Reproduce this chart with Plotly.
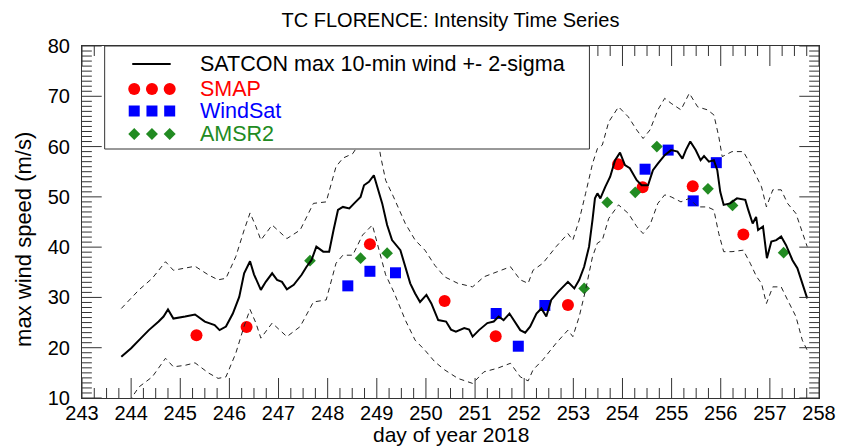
import numpy as np
import plotly.graph_objects as go

# ---------------- data ----------------
satcon_day = [243.80, 244.00, 244.20, 244.36, 244.56, 244.66, 244.75, 244.86, 245.10, 245.30,
              245.50, 245.70, 245.80, 245.93, 246.07, 246.20, 246.30, 246.42, 246.50, 246.64,
              246.74, 246.87, 246.97, 247.07, 247.17, 247.31, 247.47, 247.57, 247.67, 247.77,
              247.91, 248.03, 248.12, 248.21, 248.31, 248.44, 248.57, 248.67, 248.74, 248.84,
              248.94, 249.01, 249.11, 249.21, 249.31, 249.48, 249.58, 249.68, 249.78, 249.88,
              250.01, 250.11, 250.25, 250.41, 250.51, 250.61, 250.78, 250.88, 250.95, 251.08,
              251.25, 251.38, 251.48, 251.58, 251.70, 251.82, 251.92, 252.02, 252.12, 252.25,
              252.35, 252.45, 252.55, 252.69, 252.89, 253.02, 253.12, 253.22, 253.32, 253.39,
              253.44, 253.49, 253.55, 253.65, 253.75, 253.85, 253.95, 254.05, 254.15, 254.29,
              254.39, 254.52, 254.62, 254.72, 254.86, 254.99, 255.12, 255.22, 255.29, 255.38,
              255.49, 255.59, 255.66, 255.76, 255.86, 255.93, 255.99, 256.06, 256.19, 256.33,
              256.50, 256.56, 256.65, 256.72, 256.76, 256.86, 256.94, 257.03, 257.13, 257.23,
              257.33, 257.46, 257.56, 257.76]
satcon_wind = [18.2, 19.9, 21.9, 23.5, 25.2, 26.2, 27.6, 25.8, 26.2, 26.6,
               25.2, 24.5, 23.5, 24.2, 26.8, 30.1, 34.8, 37.2, 34.6, 31.5,
               33.1, 34.8, 33.5, 33.1, 31.6, 32.5, 34.5, 36.1, 37.4, 40.1,
               39.1, 39.1, 43.4, 47.4, 48.0, 47.7, 49.0, 50.0, 52.3, 53.0,
               54.3, 52.0, 48.7, 44.4, 41.4, 39.4, 36.1, 32.8, 30.8, 29.1,
               30.5, 28.8, 25.5, 25.2, 23.6, 23.2, 23.9, 23.6, 22.2, 23.5,
               24.9, 25.2, 26.2, 25.5, 26.8, 24.9, 23.5, 23.0, 24.2, 26.8,
               27.8, 26.2, 29.5, 31.1, 33.1, 31.8, 33.5, 36.1, 40.1, 45.4,
               49.7, 50.7, 49.7, 52.0, 54.0, 57.3, 58.8, 56.3, 55.7, 53.3,
               52.3, 52.3, 55.3, 56.6, 58.3, 59.3, 59.0, 57.6, 59.3, 61.0,
               59.3, 57.3, 58.1, 57.0, 57.3, 55.3, 51.0, 48.4, 48.7, 49.7,
               49.4, 47.4, 44.7, 46.0, 43.4, 44.1, 37.8, 41.1, 41.4, 42.1,
               40.4, 37.4, 35.8, 29.8]

upper_day = [243.80, 244.16, 244.43, 244.70, 244.86, 245.10, 245.30, 245.57, 245.77, 245.93,
             246.13, 246.30, 246.42, 246.54, 246.64, 246.87, 247.17, 247.44, 247.71, 247.97,
             248.17, 248.31, 248.51, 248.74, 248.94, 249.01, 249.08, 249.18, 249.34, 249.58,
             249.78, 249.98, 250.18, 250.38, 250.65, 250.95, 251.18, 251.45, 251.72, 251.92,
             252.08, 252.18, 252.38, 252.65, 252.89, 252.99, 253.12, 253.25, 253.39, 253.49,
             253.59, 253.72, 253.92, 254.12, 254.29, 254.42, 254.56, 254.72, 254.86, 254.99,
             255.19, 255.36, 255.53, 255.73, 255.86, 255.96, 256.03, 256.23, 256.46, 256.60,
             256.73, 256.83, 256.93, 257.06, 257.23, 257.36, 257.53, 257.66, 257.76]
upper_wind = [27.8, 31.5, 33.8, 37.1, 35.4, 35.8, 36.2, 34.5, 33.5, 33.8,
              38.1, 43.4, 46.8, 44.1, 41.4, 44.4, 41.7, 43.4, 48.7, 49.0,
              56.0, 57.7, 58.6, 62.0, 64.2, 62.0, 58.0, 53.3, 50.0, 44.7,
              41.4, 39.4, 36.4, 34.1, 32.8, 32.1, 34.1, 35.1, 36.1, 33.5,
              32.8, 35.4, 36.8, 40.1, 42.7, 41.4, 45.4, 50.7, 56.6, 59.6,
              60.3, 64.9, 67.9, 65.9, 63.3, 61.6, 63.3, 67.3, 69.6, 68.6,
              67.3, 70.6, 67.9, 67.3, 66.3, 62.0, 58.0, 59.0, 59.0, 56.6,
              54.0, 52.0, 48.0, 51.4, 51.4, 48.7, 46.7, 42.7, 40.1]

lower_day = [243.80, 244.00, 244.16, 244.43, 244.70, 244.86, 245.10, 245.30, 245.57, 245.77,
             245.93, 246.13, 246.30, 246.42, 246.54, 246.64, 246.87, 247.17, 247.44, 247.71,
             247.97, 248.17, 248.31, 248.51, 248.71, 248.91, 249.18, 249.35, 249.58, 249.78,
             249.98, 250.18, 250.38, 250.65, 250.95, 251.18, 251.45, 251.72, 251.92, 252.08,
             252.18, 252.38, 252.65, 252.89, 252.99, 253.12, 253.25, 253.39, 253.49, 253.59,
             253.72, 253.92, 254.12, 254.29, 254.42, 254.56, 254.72, 254.86, 254.99, 255.19,
             255.36, 255.53, 255.73, 255.86, 255.96, 256.06, 256.23, 256.46, 256.60, 256.73,
             256.83, 256.93, 257.06, 257.23, 257.36, 257.53, 257.66, 257.76]
lower_wind = [8.3, 9.9, 12.2, 14.2, 17.9, 16.2, 16.5, 17.0, 15.0, 13.9,
              14.2, 18.9, 24.3, 27.6, 24.9, 21.9, 24.9, 22.2, 24.2, 29.1,
              29.5, 36.8, 38.4, 38.4, 42.4, 44.4, 34.5, 31.0, 25.5, 21.5,
              19.5, 17.2, 15.6, 13.9, 12.9, 15.2, 15.9, 16.9, 14.2, 13.4,
              15.6, 17.6, 20.9, 23.5, 22.2, 26.2, 31.5, 38.1, 40.8, 41.4,
              45.7, 48.4, 46.7, 44.1, 42.7, 44.4, 48.7, 50.4, 50.0, 49.0,
              49.7, 48.0, 48.0, 47.4, 42.7, 39.1, 39.1, 39.4, 36.8, 34.1,
              32.8, 28.8, 32.1, 32.1, 29.5, 26.2, 21.5, 19.5]

smap_day = [245.33, 246.35, 248.86, 250.38, 251.42, 252.89, 253.91, 254.41, 255.43, 256.46]
smap_wind = [22.5, 24.1, 40.6, 29.3, 22.3, 28.5, 56.5, 51.9, 52.1, 42.5]

windsat_day = [248.41, 248.86, 249.38, 251.43, 251.88, 252.42, 254.46, 254.93, 255.44, 255.91]
windsat_wind = [32.3, 35.2, 34.9, 26.8, 20.3, 28.4, 55.5, 59.3, 49.2, 56.8]

amsr2_day = [247.64, 248.67, 249.21, 253.22, 253.69, 254.26, 254.70, 255.74, 256.24, 257.28]
amsr2_wind = [37.3, 37.8, 38.8, 31.8, 48.9, 50.9, 60.0, 51.6, 48.3, 38.9]

legend_labels = ["SATCON max 10-min wind +- 2-sigma", "SMAP", "WindSat", "AMSR2"]
x_range = [243, 258]
y_range = [10, 80]

# ---------------- styles / geometry ----------------
FONT = "Liberation Sans, Arial, Helvetica, sans-serif"
RED, BLUE, GREEN = "#ff0000", "#0000ff", "#228b22"
AX = "#333333"
W, H = 848, 446
ML, MR, MT, MB = 82, 18, 46, 48
PW, PH = W - ML - MR, H - MT - MB
MAJ, MIN = 20, 10  # tick lengths in px

fig = go.Figure()

fig.add_trace(go.Scatter(x=smap_day, y=smap_wind, mode="markers",
                         marker=dict(symbol="circle", size=12, color=RED), showlegend=False))
fig.add_trace(go.Scatter(x=windsat_day, y=windsat_wind, mode="markers",
                         marker=dict(symbol="square", size=11, color=BLUE), showlegend=False))
fig.add_trace(go.Scatter(x=amsr2_day, y=amsr2_wind, mode="markers",
                         marker=dict(symbol="diamond", size=9, color=GREEN), showlegend=False))

fig.add_trace(go.Scatter(x=upper_day, y=upper_wind, mode="lines",
                         line=dict(color="#222222", width=1, dash="5px,4px"), showlegend=False))
fig.add_trace(go.Scatter(x=lower_day, y=lower_wind, mode="lines",
                         line=dict(color="#222222", width=1, dash="5px,4px"), showlegend=False))
fig.add_trace(go.Scatter(x=satcon_day, y=satcon_wind, mode="lines",
                         line=dict(color="black", width=2), showlegend=False))

# ---------------- inward IDL-style ticks on all four sides (axis decoration) ----------------
dx = (x_range[1] - x_range[0]) / PW   # data units per px along x
dy = (y_range[1] - y_range[0]) / PH   # data units per px along y
tx, ty = [], []
for xv in np.arange(x_range[0], x_range[1] + 1e-9, 0.25):
    ln = MAJ if abs(xv - round(xv)) < 1e-9 else MIN
    tx += [xv, xv, None, xv, xv, None]
    ty += [y_range[0], y_range[0] + ln * dy, None, y_range[1], y_range[1] - ln * dy, None]
for yv in np.arange(y_range[0], y_range[1] + 1e-9, 1.0):
    ln = MAJ if int(round(yv)) % 10 == 0 else MIN
    tx += [x_range[0], x_range[0] + ln * dx, None, x_range[1], x_range[1] - ln * dx, None]
    ty += [yv, yv, None, yv, yv, None]
fig.add_trace(go.Scatter(x=tx, y=ty, mode="lines", line=dict(color=AX, width=1),
                         hoverinfo="skip", showlegend=False, cliponaxis=False))

# ---------------- hand-made legend box (IDL style) ----------------
def px(xp):  # pixel -> paper x
    return (xp - ML) / PW

def py(yp):  # pixel -> paper y
    return (H - MB - yp) / PH

shapes = [dict(type="rect", xref="paper", yref="paper", x0=px(105), x1=px(597),
               y0=py(149), y1=1.0, line=dict(color=AX, width=1), fillcolor="white",
               layer="above"),
          dict(type="line", xref="paper", yref="paper", x0=px(133), x1=px(172),
               y0=py(64), y1=py(64), line=dict(color="black", width=2), layer="above")]
row_y = [py(89), py(111), py(134)]
sym_x = [px(135), px(153), px(171)]
for xa in sym_x:
    shapes.append(dict(type="circle", xref="paper", yref="paper", xsizemode="pixel",
                       ysizemode="pixel", xanchor=xa, yanchor=row_y[0], x0=-6, x1=6, y0=-6, y1=6,
                       fillcolor=RED, line=dict(width=0), layer="above"))
    shapes.append(dict(type="rect", xref="paper", yref="paper", xsizemode="pixel",
                       ysizemode="pixel", xanchor=xa, yanchor=row_y[1], x0=-5.5, x1=5.5,
                       y0=-5.5, y1=5.5, fillcolor=BLUE, line=dict(width=0), layer="above"))
    shapes.append(dict(type="path", xref="paper", yref="paper", xsizemode="pixel",
                       ysizemode="pixel", xanchor=xa, yanchor=row_y[2],
                       path="M -6 0 L 0 6 L 6 0 L 0 -6 Z",
                       fillcolor=GREEN, line=dict(width=0), layer="above"))

text_y = [py(64), py(89), py(111), py(134)]
text_c = ["black", RED, BLUE, GREEN]
annotations = []
for lab, yy, cc in zip(legend_labels, text_y, text_c):
    annotations.append(dict(text=lab, xref="paper", yref="paper", x=px(200), y=yy,
                            xanchor="left", yanchor="middle", showarrow=False,
                            font=dict(family=FONT, size=21.5, color=cc)))
annotations.append(dict(text="max wind speed (m/s)", xref="paper", yref="paper",
                        x=px(22), y=py(239), xanchor="center", yanchor="middle",
                        textangle=-90, showarrow=False,
                        font=dict(family=FONT, size=22, color="black")))
annotations.append(dict(text="day of year 2018", xref="paper", yref="paper",
                        x=0.5, y=py(434), xanchor="center", yanchor="middle",
                        showarrow=False, font=dict(family=FONT, size=21, color="black")))

fig.update_layout(
    width=W, height=H,
    margin=dict(l=ML, r=MR, t=MT, b=MB, pad=0),
    paper_bgcolor="white", plot_bgcolor="white",
    title=dict(text="TC FLORENCE: Intensity Time Series", x=0.5, xref="paper",
               y=1 - 20 / H, yref="container", xanchor="center", yanchor="middle",
               font=dict(family=FONT, size=20, color="black")),
    shapes=shapes, annotations=annotations,
)
fig.update_xaxes(range=x_range, tickmode="linear", tick0=243, dtick=1, ticks="",
                 showline=True, linecolor=AX, linewidth=1, mirror=True,
                 showgrid=False, zeroline=False,
                 tickfont=dict(family=FONT, size=20, color="black"),
                 ticklabelstandoff=-3)
fig.update_yaxes(range=y_range, tickmode="linear", tick0=10, dtick=10, ticks="",
                 showline=True, linecolor=AX, linewidth=1, mirror=True,
                 showgrid=False, zeroline=False,
                 tickfont=dict(family=FONT, size=20, color="black"),
                 ticklabelstandoff=7)

fig.write_html("out.html")
